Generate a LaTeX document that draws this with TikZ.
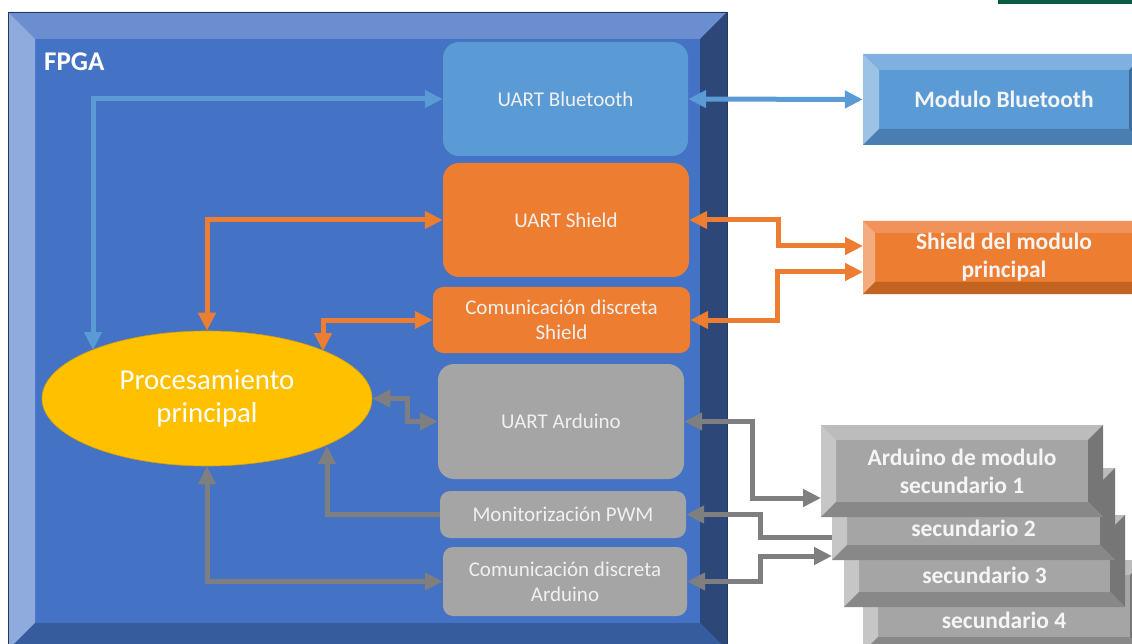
\documentclass[tikz,border=0pt]{standalone}
\usepackage{fontspec}
\setmainfont{Carlito}
\usetikzlibrary{arrows.meta,shapes.geometric}
\definecolor{fpmain}{HTML}{4472C4}
\definecolor{fptop}{HTML}{6B8ED0}
\definecolor{fpleft}{HTML}{8FAADC}
\definecolor{fpright}{HTML}{2C4778}
\definecolor{fpbot}{HTML}{375C9E}
\definecolor{mbmain}{HTML}{5B9BD5}
\definecolor{mbtop}{HTML}{7FB0DF}
\definecolor{mbleft}{HTML}{9CC2E5}
\definecolor{mbright}{HTML}{3E6E9E}
\definecolor{mbbot}{HTML}{4A7DB0}
\definecolor{shmain}{HTML}{ED7D31}
\definecolor{shtop}{HTML}{F0925A}
\definecolor{shleft}{HTML}{F4AC7E}
\definecolor{shright}{HTML}{B85C1E}
\definecolor{shbot}{HTML}{C2631F}
\definecolor{grmain}{HTML}{A5A5A5}
\definecolor{grtop}{HTML}{BCBCBC}
\definecolor{grleft}{HTML}{C6C6C6}
\definecolor{grright}{HTML}{767676}
\definecolor{grbot}{HTML}{888888}
\definecolor{cblue}{HTML}{5B9BD5}
\definecolor{corange}{HTML}{ED7D31}
\definecolor{cgray}{HTML}{A5A5A5}
\definecolor{cagray}{HTML}{7F7F7F}
\definecolor{cyel}{HTML}{FFC000}
\definecolor{cgreen}{HTML}{0B5A43}
\newcommand\bevbox[6]{%
 \fill[#6main] (#1,#2) rectangle (#3,#4);
 \fill[#6top] (#1,#2) -- (#3,#2) -- ({#3-#5},{#2+#5}) -- ({#1+#5},{#2+#5}) -- cycle;
 \fill[#6left] (#1,#2) -- ({#1+#5},{#2+#5}) -- ({#1+#5},{#4-#5}) -- (#1,#4) -- cycle;
 \fill[#6right] (#3,#2) -- ({#3-#5},{#2+#5}) -- ({#3-#5},{#4-#5}) -- (#3,#4) -- cycle;
 \fill[#6bot] (#1,#4) -- ({#1+#5},{#4-#5}) -- ({#3-#5},{#4-#5}) -- (#3,#4) -- cycle;
}
\begin{document}
\begin{tikzpicture}[x=1pt,y=-1pt,
  rbox/.style={rectangle, rounded corners=16pt, inner sep=0pt, text=white!94!black,
    font=\fontsize{21}{25}\selectfont, align=center},
  sbox/.style={rbox, rounded corners=10pt},
  btxt/.style={inner sep=0pt, text=white!96!black, font=\bfseries\fontsize{23.5}{28}\selectfont, align=center},
  conn/.style={line width=5pt, >={Triangle[length=18pt,width=17pt]}},
  barrow/.style={conn, draw=cblue},
  oarrow/.style={conn, draw=corange},
  garrow/.style={conn, draw=cagray}]
\useasboundingbox (0,0) rectangle (1132,644);
\clip (0,0) rectangle (1132,644);
\fill[cgreen] (998,0) rectangle (1132,4);
% FPGA container
\bevbox{8}{12}{727}{650}{27}{fp}
\draw[fpright!80!black, line width=0.6pt] (8,12) rectangle (727,650);
\node[anchor=base west, inner sep=0pt, text=white, font=\bfseries\fontsize{27}{30}\selectfont] (fpga) at (44,71) {FPGA};
% inner blocks
\node[rbox, fill=mbmain, minimum width=245pt, minimum height=114pt] (ubt) at (565.5,99) {UART Bluetooth};
\node[rbox, fill=shmain, minimum width=246pt, minimum height=114pt] (ush) at (566,220) {UART Shield};
\node[sbox, fill=shmain, minimum width=257pt, minimum height=66pt] (cds) at (561.5,320) {Comunicación discreta\\Shield};
\node[rbox, fill=cgray, minimum width=246pt, minimum height=115pt] (uar) at (561,421.5) {UART Arduino};
\node[sbox, fill=cgray, minimum width=246pt, minimum height=47pt] (pwm) at (563,514.5) {Monitorización PWM};
\node[sbox, fill=cgray, minimum width=244pt, minimum height=69pt] (cda) at (565,581.5) {Comunicación discreta\\Arduino};
\node[ellipse, fill=cyel, draw=cyel!85!black, line width=0.6pt, minimum width=330pt, minimum height=135pt, inner sep=0pt,
  text=white, font=\fontsize{28.8}{33}\selectfont, align=center] (proc) at (207,398.5) {Procesamiento\\principal};
% external boxes
\bevbox{863}{54}{1145}{145}{16}{mb}
\node[btxt, minimum width=282pt, minimum height=91pt] (mb) at (1004,99.5) {Modulo Bluetooth};
\bevbox{863}{221}{1145}{294}{12}{sh}
\node[btxt, minimum width=282pt, minimum height=73pt] (sh) at (1004,257.5) {Shield del modulo\\principal};
\bevbox{863}{560}{1145}{652}{15}{gr}
\node[btxt] (s4) at (1004,620) {secundario 4};
\bevbox{844}{515}{1125}{607}{15}{gr}
\node[btxt] (s3) at (984.5,575) {secundario 3};
\bevbox{832}{468}{1115}{560}{15}{gr}
\node[btxt] (s2) at (973.5,528) {secundario 2};
\bevbox{821}{425}{1103}{517}{15}{gr}
\node[btxt, minimum width=282pt, minimum height=92pt] (s1) at (962,471) {Arduino de modulo\\secundario 1};
% connector end points
\coordinate (pbt) at (93,350);
\coordinate (pcd) at (323,351);
\coordinate (ppw) at (327,446);
\coordinate (sh1) at (863,246);
\coordinate (sh2) at (863,272);
\coordinate (a1) at (821,498);
\coordinate (a2) at (832,537);
\coordinate (a3) at (832,556);
% connectors
\draw[barrow, <->] (ubt.west) -| (pbt);
\draw[barrow, <->] (ubt.east) -- (mb.west);
\draw[oarrow, <->] (ush.west) -| (proc.north);
\draw[oarrow, <->] (cds.west) -| (pcd);
\draw[oarrow, <->] (ush.east) -- ++(89,0) |- (sh1);
\draw[oarrow, <->] (cds.east) -- ++(87,0) |- (sh2);
\draw[garrow, <->] (proc.east) -- ++(35,0) |- (uar.west);
\draw[garrow, ->] (pwm.west) -| (ppw);
\draw[garrow, <->] (cda.west) -| (proc.south);
\draw[garrow, <->] (uar.east) -- ++(68,0) |- (a1);
\draw[garrow, <-] (pwm.east) -- ++(74,0) |- (a2);
\draw[garrow, <->] (cda.east) -- ++(73,0) |- (a3);
\end{tikzpicture}
\end{document}
